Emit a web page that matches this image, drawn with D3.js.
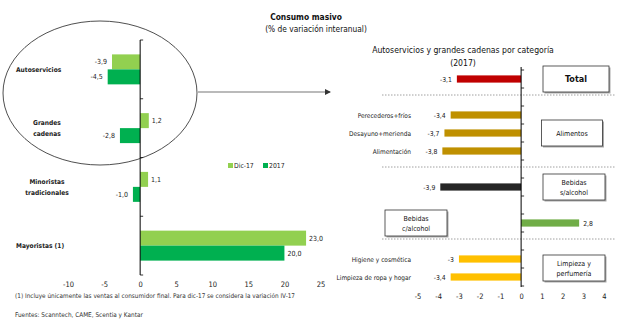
<!DOCTYPE html>
<html>
<head>
<meta charset="utf-8">
<script src="https://cdn.jsdelivr.net/npm/d3@7"></script>
<style>
  html, body { margin: 0; padding: 0; background: #fff; }
  svg { display: block; font-family: "Liberation Sans Narrow", "DejaVu Sans Condensed", "Arial Narrow", sans-serif; }
</style>
</head>
<body>
<svg id="chart" width="629" height="329"></svg>
<script>
// ---- Left panel: channel data (% y/y) ----
const channels = ["Autoservicios", "Grandes cadenas", "Minoristas tradicionales", "Mayoristas (1)"];
const channelLines = [["Autoservicios"], ["Grandes", "cadenas"], ["Minoristas", "tradicionales"], ["Mayoristas (1)"]];
const seriesNames = ["Dic-17", "2017"];
const dic17Values = [-3.9, 1.2, 1.1, 23.0];
const y2017Values = [-4.5, -2.8, -1.0, 20.0];
const leftTicks = [-10, -5, 0, 5, 10, 15, 20, 25];

// ---- Right panel: categories for Autoservicios y grandes cadenas (2017) ----
const catNames = ["Total", "Perecederos+fríos", "Desayuno+merienda", "Alimentación",
                  "Bebidas s/alcohol", "Bebidas c/alcohol", "Higiene y cosmética", "Limpieza de ropa y hogar"];
const catValues = [-3.1, -3.4, -3.7, -3.8, -3.9, 2.8, -3, -3.4];
const catGroups = ["Total", "Alimentos", "Alimentos", "Alimentos",
                   "Bebidas s/alcohol", "Bebidas c/alcohol", "Limpieza y perfumería", "Limpieza y perfumería"];
const groupLines = {
  "Total": ["Total"],
  "Alimentos": ["Alimentos"],
  "Bebidas s/alcohol": ["Bebidas", "s/alcohol"],
  "Bebidas c/alcohol": ["Bebidas", "c/alcohol"],
  "Limpieza y perfumería": ["Limpieza y", "perfumería"]
};
const rightTicks = [-5, -4, -3, -2, -1, 0, 1, 2, 3, 4];

// plain hyphen for negatives, comma as decimal mark
const hy = s => s.replace("\u2212", "-");
const fmt = v => hy(d3.format(".1f")(v)).replace(".", ",");
const fmtShort = v => String(v).replace(".", ",");
const fmtTick = v => hy(d3.format("d")(v));

const svg = d3.select("#chart");
const FONT = "\"Liberation Sans Narrow\", \"DejaVu Sans Condensed\", sans-serif";

// ---- Titles ----
svg.append("text").attr("x", 306).attr("y", 20).attr("text-anchor", "middle")
  .attr("font-size", 8.4).attr("font-weight", "bold").attr("fill", "#111")
  .text("Consumo masivo");
svg.append("text").attr("x", 316).attr("y", 32).attr("text-anchor", "middle")
  .attr("font-size", 8.3).attr("fill", "#111")
  .text("(% de variación interanual)");

// ================= LEFT PANEL =================
const xL = d3.scaleLinear().domain([-10, 25]).range([68, 320.5]);
const yL = d3.scaleBand().domain(channels).range([40, 275]);
const ySub = d3.scaleBand().domain(seriesNames).range([0, yL.bandwidth()]).paddingOuter(0.96);
const seriesColor = { "Dic-17": "#92D050", "2017": "#00B050" };

const leftG = svg.append("g");
const rows = channels.map((c, i) => ({ c, vals: [
  { s: "Dic-17", v: dic17Values[i] }, { s: "2017", v: y2017Values[i] }] }));

const rowG = leftG.selectAll("g.row").data(rows).join("g")
  .attr("transform", d => `translate(0,${yL(d.c)})`);

rowG.selectAll("rect").data(d => d.vals).join("rect")
  .attr("x", d => xL(Math.min(0, d.v)))
  .attr("width", d => Math.abs(xL(d.v) - xL(0)))
  .attr("y", d => ySub(d.s))
  .attr("height", ySub.bandwidth())
  .attr("fill", d => seriesColor[d.s]);

rowG.selectAll("text.val").data(d => d.vals).join("text")
  .attr("class", "val")
  .attr("x", d => d.v < 0 ? xL(d.v) - 5 : xL(d.v) + 3)
  .attr("y", d => ySub(d.s) + ySub.bandwidth() / 2 + 2.5)
  .attr("text-anchor", d => d.v < 0 ? "end" : "start")
  .attr("font-size", 7).attr("fill", "#222")
  .text(d => fmt(d.v));

// channel labels
rowG.each(function(d, i) {
  const lines = channelLines[i];
  const t = d3.select(this).append("text")
    .attr("text-anchor", lines.length > 1 ? "middle" : "start")
    .attr("font-size", 6.6).attr("font-weight", "bold").attr("fill", "#222");
  const cy = yL.bandwidth() / 2 + 2.5;
  lines.forEach((l, k) => {
    t.append("tspan")
      .attr("x", lines.length > 1 ? 47 : 16)
      .attr("y", cy + (k - (lines.length - 1) / 2) * 11)
      .text(l);
  });
});

// vertical axis at zero with ticks at band boundaries
const bounds = channels.map(c => yL(c)).concat([yL.range()[1]]);
leftG.append("line").attr("x1", xL(0)).attr("x2", xL(0))
  .attr("y1", bounds[0]).attr("y2", bounds[bounds.length - 1])
  .attr("stroke", "#000").attr("stroke-width", 1);
leftG.selectAll("line.tk").data(bounds).join("line").attr("class", "tk")
  .attr("x1", xL(0)).attr("x2", xL(0) + 3).attr("y1", d => d).attr("y2", d => d)
  .attr("stroke", "#000").attr("stroke-width", 0.8);

// x axis labels
const axL = leftG.append("g").attr("transform", "translate(0,279)")
  .call(d3.axisBottom(xL).tickValues(leftTicks).tickSize(0).tickPadding(3).tickFormat(fmtTick));
axL.select(".domain").remove();
axL.selectAll("text").attr("font-size", 7.5).attr("fill", "#222").attr("font-family", FONT);

// legend
const lg = leftG.append("g").attr("transform", "translate(228,163)");
seriesNames.forEach((s, i) => {
  const gx = i * 35;
  lg.append("rect").attr("x", gx).attr("y", 0).attr("width", 5).attr("height", 5).attr("fill", seriesColor[s]);
  lg.append("text").attr("x", gx + 6).attr("y", 5).attr("font-size", 6.8).attr("fill", "#222").text(s);
});

// highlight ellipse and arrow to the detail panel
svg.append("ellipse").attr("cx", 100).attr("cy", 93).attr("rx", 97).attr("ry", 72)
  .attr("fill", "none").attr("stroke", "#222").attr("stroke-width", 0.8);
svg.append("defs").append("marker").attr("id", "arrow")
  .attr("viewBox", "0 0 6 6").attr("refX", 5).attr("refY", 3)
  .attr("markerWidth", 5).attr("markerHeight", 5).attr("orient", "auto")
  .append("path").attr("d", "M0,0L6,3L0,6Z").attr("fill", "#333");
svg.append("line").attr("x1", 198).attr("x2", 330).attr("y1", 92).attr("y2", 92)
  .attr("stroke", "#777").attr("stroke-width", 1.2).attr("marker-end", "url(#arrow)");

// footnotes
svg.append("text").attr("x", 15).attr("y", 297.5).attr("font-size", 6.4).attr("fill", "#333")
  .text("(1) Incluye únicamente las ventas al consumidor final. Para dic-17 se considera la variación IV-17");
svg.append("text").attr("x", 15).attr("y", 316.5).attr("font-size", 6.4).attr("fill", "#333")
  .text("Fuentes: Scanntech, CAME, Scentia y Kantar");

// ================= RIGHT PANEL =================
svg.append("text").attr("x", 463).attr("y", 53).attr("text-anchor", "middle")
  .attr("font-size", 8.6).attr("fill", "#111")
  .text("Autoservicios y grandes cadenas por categoría");
svg.append("text").attr("x", 463).attr("y", 66).attr("text-anchor", "middle")
  .attr("font-size", 8.6).attr("fill", "#111")
  .text("(2017)");

// slot layout: a blank slot between consecutive groups
const items = catNames.map((n, i) => ({ name: n, value: catValues[i], group: catGroups[i] }));
const slots = [];
items.forEach((d, i) => {
  if (i > 0 && d.group !== items[i - 1].group) {
    slots.push({ blank: true, key: "gap" + i, sep: d.group.split(" ")[0] !== items[i - 1].group.split(" ")[0] });
  }
  slots.push(Object.assign({ blank: false, key: d.name }, d));
});

const xR = d3.scaleLinear().domain([-5, 4]).range([417.5, 604]);
const yR = d3.scaleBand().domain(slots.map(s => s.key)).range([70, 286])
  .paddingInner(0.6).paddingOuter(0.3);
const groupColor = {
  "Total": "#C00000",
  "Alimentos": "#BF9000",
  "Bebidas s/alcohol": "#262626",
  "Bebidas c/alcohol": "#70AD47",
  "Limpieza y perfumería": "#FFC000"
};
const rightG = svg.append("g");
const bars = slots.filter(s => !s.blank);
const mid = k => yR(k) + yR.bandwidth() / 2;

// separators between sections
rightG.selectAll("line.sep").data(slots.filter(s => s.blank && s.sep)).join("line").attr("class", "sep")
  .attr("x1", 382).attr("x2", 615).attr("y1", d => mid(d.key) - 2).attr("y2", d => mid(d.key) - 2)
  .attr("stroke", "#888").attr("stroke-width", 0.8).attr("stroke-dasharray", "1.5,1.5");

rightG.selectAll("rect.bar").data(bars).join("rect").attr("class", "bar")
  .attr("x", d => xR(Math.min(0, d.value)))
  .attr("width", d => Math.abs(xR(d.value) - xR(0)))
  .attr("y", d => yR(d.key)).attr("height", yR.bandwidth())
  .attr("fill", d => groupColor[d.group]);

rightG.selectAll("text.val").data(bars).join("text").attr("class", "val")
  .attr("x", d => d.value < 0 ? xR(d.value) - 5 : xR(d.value) + 4)
  .attr("y", d => mid(d.key) + 2.5)
  .attr("text-anchor", d => d.value < 0 ? "end" : "start")
  .attr("font-size", 6.8).attr("fill", "#222")
  .text(d => fmtShort(d.value));

// item labels for groups with several items
rightG.selectAll("text.cat").data(bars.filter(d => d.name !== d.group)).join("text").attr("class", "cat")
  .attr("x", 411).attr("y", d => mid(d.key) + 2.5).attr("text-anchor", "end")
  .attr("font-size", 6.5).attr("fill", "#222").text(d => d.name);

// axis at zero with ticks at slot boundaries
const rb = slots.map(s => yR(s.key) - yR.step() * yR.paddingInner() / 2);
rb.push(yR.range()[1]);
rightG.append("line").attr("x1", xR(0)).attr("x2", xR(0)).attr("y1", 67).attr("y2", 287)
  .attr("stroke", "#000").attr("stroke-width", 1);
rightG.selectAll("line.tk").data(rb).join("line").attr("class", "tk")
  .attr("x1", xR(0)).attr("x2", xR(0) + 3).attr("y1", d => d).attr("y2", d => d)
  .attr("stroke", "#000").attr("stroke-width", 0.8);

const axR = rightG.append("g").attr("transform", "translate(0,291)")
  .call(d3.axisBottom(xR).tickValues(rightTicks).tickSize(0).tickPadding(3).tickFormat(fmtTick));
axR.select(".domain").remove();
axR.selectAll("text").attr("font-size", 7.5).attr("fill", "#222").attr("font-family", FONT);

// group boxes
const groups = Array.from(new Set(catGroups));
const groupBox = g => {
  const ks = bars.filter(d => d.group === g).map(d => d.key);
  const cy = (mid(ks[0]) + mid(ks[ks.length - 1])) / 2;
  const onLeft = items.find(d => d.group === g).value > 0;
  return { g, cy, cx: onLeft ? 416 : 574, w: 62, h: 26 };
};
const boxes = groups.map(groupBox);
boxes.forEach(b => { if (b.g === "Total") { b.cx = 576; b.w = 66; } if (b.g === "Alimentos") { b.cx = 572; b.w = 61; } });
const bxG = rightG.selectAll("g.box").data(boxes).join("g").attr("class", "box")
  .attr("transform", d => `translate(${d.cx - d.w / 2},${d.cy - d.h / 2})`);
bxG.append("rect").attr("x", 1.5).attr("y", 1.5).attr("width", d => d.w).attr("height", d => d.h).attr("fill", "#aaa");
bxG.append("rect").attr("width", d => d.w).attr("height", d => d.h)
  .attr("fill", "#fff").attr("stroke", "#333").attr("stroke-width", 0.8);
bxG.each(function(d) {
  const lines = groupLines[d.g];
  const t = d3.select(this).append("text").attr("text-anchor", "middle").attr("fill", "#111")
    .attr("font-size", d.g === "Total" ? 9 : 7).attr("font-weight", d.g === "Total" ? "bold" : "normal");
  lines.forEach((l, k) => {
    t.append("tspan").attr("x", d.w / 2)
      .attr("y", d.h / 2 + 3 + (k - (lines.length - 1) / 2) * 10.5).text(l);
  });
});
</script>
</body>
</html>
